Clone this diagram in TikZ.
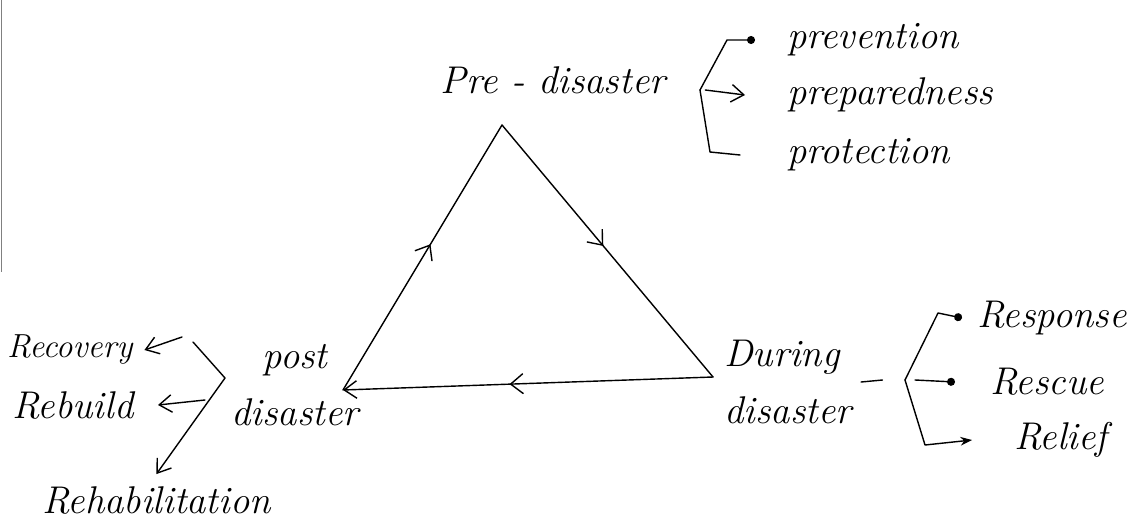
\documentclass[tikz,border=0pt]{standalone}
\usetikzlibrary{arrows.meta,decorations.markings}

\tikzset{
  hand/.style={font=\fontsize{22}{32}\selectfont\itshape, inner sep=1pt},
  pen/.style={thick, line cap=round, line join=round},
  midtip/.style={postaction={decorate},
    decoration={markings, mark=at position #1 with {\arrow{Straight Barb[length=2.5mm,width=4mm]}}}},
  dottip/.style={-{Circle[length=1.6mm]}},
}

\begin{document}
\begin{tikzpicture}[x=0.02cm, y=-0.02cm, >={Straight Barb[length=2.5mm,width=3.5mm]}]
  \useasboundingbox (0,0) rectangle (1148,530);

  % scan edge on the left
  \draw[gray, thin] (1,0) -- (1,272);

  % Cycle of the three phases
  \coordinate (top) at (502,125);
  \coordinate (botleft) at (343,390);
  \coordinate (botright) at (713,377);
  \draw[pen, midtip=0.55] (botleft) -- (top);
  \draw[pen, midtip=0.48] (top) -- (botright);
  \draw[pen, midtip=0.55, ->] (botright) -- (botleft);

  % Phase labels
  \node[hand] (pre) at (553,80) {Pre - disaster};
  \node[hand, align=left] (during) at (788,382) {During\\disaster};
  \node[hand, align=center] (post) at (295,385) {post\\disaster};

  % Pre-disaster branches
  \node[hand, anchor=west] (prev) at (785,40) {prevention};
  \node[hand, anchor=west] (prep) at (785,95) {preparedness};
  \node[hand, anchor=west] (prot) at (785,155) {protection};
  \coordinate (prebr) at (700,90);
  \draw[pen, dottip] (prebr) -- (727,40) -- ([xshift=-0.6cm]prev.west);
  \draw[pen, ->] ([xshift=3pt]prebr) -- ([xshift=-0.8cm]prep.west);
  \draw[pen] (prebr) -- (710,152) -- ([xshift=-0.9cm]prot.west);

  % During-disaster branches
  \node[hand, anchor=west] (resp) at (975,318) {Response};
  \node[hand, anchor=west] (resc) at (988,382) {Rescue};
  \node[hand, anchor=west] (reli) at (1012,440) {Relief};
  \coordinate (durbr) at (905,380);
  \draw[pen] ([xshift=0.15cm]during.east) -- ([xshift=-0.45cm]durbr);
  \draw[pen, dottip] (durbr) -- (938,313) -- ([xshift=-0.26cm]resp.west);
  \draw[pen, dottip] ([xshift=0.2cm]durbr) -- ([xshift=-0.66cm]resc.west);
  \draw[pen, -Stealth] (durbr) -- (925,445) -- ([xshift=-0.8cm]reli.west);

  % Post-disaster branches
  \node[hand, anchor=west, font=\fontsize{19}{22}\selectfont\itshape] (reco) at (5,350) {Recovery};
  \node[hand, anchor=west] (rebu) at (10,405) {Rebuild};
  \node[hand, anchor=west] (reha) at (40,500) {Rehabilitation};
  \coordinate (postbr) at (225,378);
  \coordinate (postup) at (193,342);
  \coordinate (recofrom) at (182,337);
  \coordinate (rebufrom) at (205,400);
  \draw[pen, ->] (postup) -- (postbr) -- ([yshift=0.2cm]reha.north);
  \draw[pen, ->] (recofrom) -- ([xshift=0.2cm]reco.east);
  \draw[pen, ->] (rebufrom) -- ([xshift=0.45cm]rebu.east);
\end{tikzpicture}
\end{document}
